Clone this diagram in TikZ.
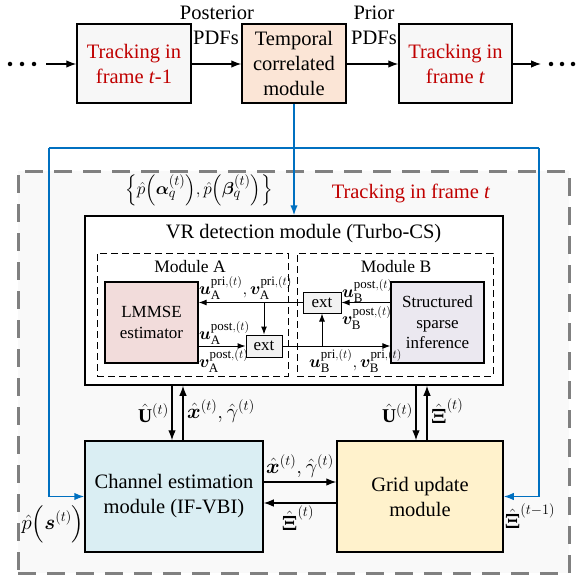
\documentclass[tikz,border=0pt]{standalone}
\usepackage{fontspec}
\setmainfont{Liberation Serif}
\usepackage{amsmath,bm}
\usetikzlibrary{arrows.meta,calc}

\definecolor{trackred}{HTML}{C00000}
\definecolor{flowblue}{HTML}{0070C0}
\definecolor{framegray}{HTML}{808080}
\definecolor{framefill}{HTML}{F9F9F9}
\definecolor{stepfill}{HTML}{F7F7F7}
\definecolor{tempfill}{HTML}{FBE5D6}
\definecolor{lmfill}{HTML}{F2DCDB}
\definecolor{ssifill}{HTML}{EBE8F0}
\definecolor{extfill}{HTML}{F2F2F2}
\definecolor{cefill}{HTML}{DAEEF3}
\definecolor{gufill}{HTML}{FFF2CC}

\tikzset{
  bigbox/.style={draw, line width=1.5pt, inner sep=0pt, align=center,
    font=\fontsize{20.5}{25}\selectfont},
  innerbox/.style={draw, line width=1.2pt, inner sep=0pt, align=center,
    font=\fontsize{17}{20.5}\selectfont},
  modframe/.style={draw, line width=0.9pt, dash pattern=on 7pt off 4pt, inner sep=0pt},
  txt/.style={inner sep=0pt, font=\fontsize{20.5}{25}\selectfont},
  modtxt/.style={inner sep=0pt, font=\fontsize{17.5}{21}\selectfont},
  mlbl/.style={inner sep=0pt, font=\fontsize{18.5}{20}\selectfont},
  blbl/.style={inner sep=0pt, font=\fontsize{19.5}{22}\selectfont},
  arr/.style={-{Latex[length=10pt,width=7.5pt]}, line width=1.2pt},
  sarr/.style={-{Latex[length=8pt,width=6pt]}, line width=1pt},
  bluearr/.style={-{Latex[length=10pt,width=7.5pt]}, line width=1.5pt, draw=flowblue, color=flowblue},
  blueline/.style={line width=1.5pt, draw=flowblue},
  dotsym/.style={circle, fill=black, inner sep=0pt, minimum size=4.5pt},
}

\begin{document}
\begin{tikzpicture}[x=1pt,y=-1pt]
\useasboundingbox (0,0) rectangle (578,578);

% ---------- frame-to-frame chain ----------
\node[dotsym] (dl1) at (10,64) {};
\node[dotsym] (dl2) at (22,64) {};
\node[dotsym] (dl3) at (34,64) {};
\node[dotsym] (dr1) at (551,64) {};
\node[dotsym] (dr2) at (562,64) {};
\node[dotsym] (dr3) at (573,64) {};

\node[bigbox, fill=stepfill, text=trackred, minimum width=114pt, minimum height=79pt]
  (f1) at (134,63.5) {Tracking in\\frame \textit{t}-1};
\node[bigbox, fill=tempfill, minimum width=104pt, minimum height=79pt]
  (tcm) at (294,63.5) {Temporal\\correlated\\module};
\node[bigbox, fill=stepfill, text=trackred, minimum width=113pt, minimum height=79pt]
  (f2) at (455.5,63.5) {Tracking in\\frame \textit{t}};

\coordinate (inL) at (46,64);
\coordinate (outR) at (541,64);
\draw[arr] (inL) -- (f1.west |- inL);
\draw[arr] (f1.east |- inL) -- (tcm.west |- inL);
\draw[arr] (tcm.east |- inL) -- (f2.west |- inL);
\draw[arr] (f2.east |- inL) -- (outR);

\node[txt, anchor=base] (post1) at (217,20) {Posterior};
\node[txt, anchor=base] (post2) at (216,45) {PDFs};
\node[txt, anchor=base] (pri1) at (374,20) {Prior};
\node[txt, anchor=base] (pri2) at (374,45) {PDFs};

% ---------- tracking in frame t ----------
\node[draw=framegray, fill=framefill, line width=3pt, dash pattern=on 18pt off 11pt,
  minimum width=551pt, minimum height=402pt, inner sep=0pt] (trk) at (293.5,372) {};
\node[txt, text=trackred, anchor=base] (trklbl) at (411,198) {Tracking in frame \textit{t}};
\node[inner sep=0pt, font=\fontsize{19}{21}\selectfont] (ab) at (199,190)
  {$\Bigl\{\hat{p}\Bigl(\bm{\alpha}_q^{(t)}\Bigr),\hat{p}\Bigl(\bm{\beta}_q^{(t)}\Bigr)\Bigr\}$};

% VR detection module
\node[bigbox, fill=white, minimum width=418pt, minimum height=169pt] (vr) at (294,300.5) {};
\node[txt, anchor=base] (vrt) at (303.5,238) {VR detection module (Turbo-CS)};

\node[modframe, minimum width=191pt, minimum height=123pt] (ma) at (192.5,314.5) {};
\node[modframe, minimum width=196pt, minimum height=123pt] (mb) at (395,314.5) {};
\node[modtxt, anchor=base] (mat) at (190,272) {Module A};
\node[modtxt, anchor=base] (mbt) at (396,272) {Module B};

\node[innerbox, fill=lmfill, minimum width=93pt, minimum height=81pt] (lm) at (151.5,322.5) {LMMSE\\estimator};
\node[innerbox, fill=ssifill, minimum width=93pt, minimum height=81pt] (ssi) at (437.5,322.5) {Structured\\sparse\\inference};
\node[innerbox, line width=1pt, fill=extfill, minimum width=36pt, minimum height=22pt] (ea) at (264,346) {ext};
\node[innerbox, line width=1pt, fill=extfill, minimum width=38pt, minimum height=21pt] (eb) at (322,302.5) {ext};

\draw[sarr] (ssi.west |- eb) -- (eb.east);
\draw[sarr] (eb.west) -- (lm.east |- eb);
\coordinate (ja) at (ea.north |- eb);
\draw[sarr] (ja) -- (ea.north);
\draw[sarr] (lm.east |- ea) -- (ea.west);
\draw[sarr] (ea.east) -- (ssi.west |- ea);
\coordinate (jb) at (eb.south |- ea);
\draw[sarr] (jb) -- (eb.south);

\node[mlbl, anchor=west] (uApri) at (199,288)
  {$\bm{u}_{\mathrm{A}}^{\mathrm{pri},(t)},\bm{v}_{\mathrm{A}}^{\mathrm{pri},(t)}$};
\node[mlbl, anchor=west] (uApost) at (199,333) {$\bm{u}_{\mathrm{A}}^{\mathrm{post},(t)}$};
\node[mlbl, anchor=west] (vApost) at (199,361) {$\bm{v}_{\mathrm{A}}^{\mathrm{post},(t)}$};
\node[mlbl, anchor=west] (uBpost) at (342,291) {$\bm{u}_{\mathrm{B}}^{\mathrm{post},(t)}$};
\node[mlbl, anchor=west] (vBpost) at (342,318) {$\bm{v}_{\mathrm{B}}^{\mathrm{post},(t)}$};
\node[mlbl, anchor=west] (uBpri) at (309,361)
  {$\bm{u}_{\mathrm{B}}^{\mathrm{pri},(t)},\bm{v}_{\mathrm{B}}^{\mathrm{pri},(t)}$};

% channel estimation and grid update
\node[bigbox, fill=cefill, minimum width=178pt, minimum height=111pt] (ce) at (174,496.5)
  {Channel estimation\\module (IF-VBI)};
\node[bigbox, fill=gufill, minimum width=166pt, minimum height=111pt] (gu) at (420,496.5)
  {Grid update\\module};

\coordinate (cd) at ($(ce.north)+(-2,0)$);
\coordinate (cu) at ($(ce.north)+(9,0)$);
\draw[arr] (cd |- vr.south) -- (cd);
\draw[arr] (cu) -- (cu |- vr.south);
\coordinate (gd) at ($(gu.north)+(-4,0)$);
\coordinate (gup) at ($(gu.north)+(7,0)$);
\draw[arr] (gd |- vr.south) -- (gd);
\draw[arr] (gup) -- (gup |- vr.south);

\node[blbl, anchor=east] (U1) at (169,413) {$\hat{\mathbf{U}}^{(t)}$};
\node[blbl, anchor=west] (xg1) at (187,411) {$\hat{\bm{x}}^{(t)},\hat{\gamma}^{(t)}$};
\node[blbl, anchor=east] (U2) at (413,413) {$\hat{\mathbf{U}}^{(t)}$};
\node[blbl, anchor=west] (X1) at (431,411) {$\hat{\bm{\Xi}}^{(t)}$};

\coordinate (cg) at ($(ce.east)+(0,-14.5)$);
\coordinate (gc) at ($(gu.west)+(0,6.5)$);
\draw[arr] (cg) -- (gu.west |- cg);
\draw[arr] (gc) -- (ce.east |- gc);
\node[blbl] (xg2) at (300,466) {$\hat{\bm{x}}^{(t)},\hat{\gamma}^{(t)}$};
\node[blbl] (X2) at (298,518) {$\hat{\bm{\Xi}}^{(t)}$};

% prior information paths
\coordinate (bl) at (49,148);
\coordinate (br) at (539,148);
\draw[blueline] (bl) -- (br);
\draw[bluearr] (tcm.south) -- (vr.north);
\draw[bluearr] (bl) |- (ce.west);
\draw[bluearr] (br) |- (gu.east);
\node[blbl] (ps) at (53,524) {$\hat{p}\Bigl(\bm{s}^{(t)}\Bigr)$};
\node[blbl] (X3) at (530,516) {$\hat{\bm{\Xi}}^{(t-1)}$};
\end{tikzpicture}
\end{document}
